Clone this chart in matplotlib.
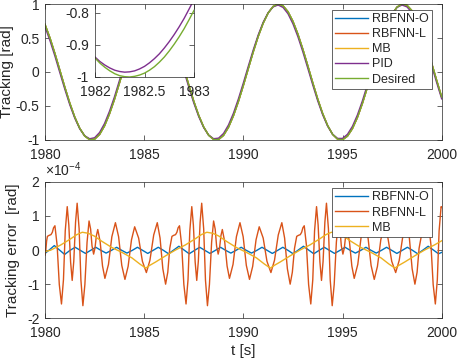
#!/usr/bin/env python3
"""Tracking and tracking error of the RBFNN / MB / PID controllers, t = 1980..2000 s."""
import numpy as np
import matplotlib
matplotlib.use("Agg")
import matplotlib.pyplot as plt
from matplotlib.ticker import FormatStrFormatter

plt.rcParams["font.family"] = ["Liberation Sans", "DejaVu Sans"]
plt.rcParams["axes.unicode_minus"] = False
plt.rcParams["mathtext.default"] = "regular"

# MATLAB default colour order
C_O, C_L, C_MB, C_PID, C_DES = "#0072BD", "#D95319", "#EDB120", "#7E2F8E", "#77AC30"
INK = "#262626"

# --- top panel: tracking [rad], read every 0.25 s ---
t_track = np.arange(1980, 2000.001, 0.25)
desired = [
    0.699, 0.500, 0.271, 0.024, -0.224, -0.458, -0.663, -0.828, -0.941, -0.995,
    -0.988, -0.919, -0.793, -0.616, -0.404, -0.165, 0.084, 0.328, 0.552, 0.741,
    0.884, 0.972, 1.000, 0.966, 0.871, 0.723, 0.528, 0.303, 0.057, -0.192,
    -0.430, -0.639, -0.809, -0.930, -0.992, -0.993, -0.932, -0.813, -0.643, -0.434,
    -0.198, 0.051, 0.297, 0.524, 0.718, 0.868, 0.964, 1.000, 0.974, 0.887,
    0.745, 0.557, 0.334, 0.091, -0.159, -0.398, -0.612, -0.788, -0.917, -0.987,
    -0.996, -0.943, -0.832, -0.669, -0.464, -0.230, 0.018, 0.265, 0.495, 0.695,
    0.851, 0.955, 0.999, 0.981, 0.902, 0.767, 0.584, 0.365, 0.123, -0.126,
    -0.368,
]
pid = [
    0.663, 0.461, 0.233, -0.012, -0.255, -0.483, -0.679, -0.835, -0.938, -0.982,
    -0.967, -0.890, -0.758, -0.578, -0.366, -0.127, 0.118, 0.357, 0.573, 0.753,
    0.887, 0.964, 0.984, 0.942, 0.840, 0.686, 0.490, 0.264, 0.021, -0.224,
    -0.455, -0.656, -0.817, -0.928, -0.981, -0.973, -0.904, -0.779, -0.606, -0.395,
    -0.160, 0.086, 0.326, 0.546, 0.732, 0.872, 0.958, 0.985, 0.950, 0.857,
    0.709, 0.519, 0.296, 0.054, -0.191, -0.425, -0.630, -0.797, -0.916, -0.977,
    -0.977, -0.916, -0.799, -0.632, -0.426, -0.191, 0.053, 0.295, 0.518, 0.710,
    0.856, 0.951, 0.985, 0.958, 0.873, 0.732, 0.546, 0.326, 0.086, -0.159,
    -0.395,
]

# inset: 1982..1983 s, read every 0.05 s
t_zoom = np.arange(1982, 1983.001, 0.05)
zoom_desired = [-0.941, -0.957, -0.970, -0.981, -0.990, -0.996, -0.999, -1.000, -0.998, -0.994,
                -0.988, -0.979, -0.968, -0.954, -0.938, -0.919, -0.898, -0.875, -0.850, -0.822,
                -0.793]
zoom_pid = [-0.938, -0.952, -0.963, -0.972, -0.979, -0.983, -0.985, -0.984, -0.981, -0.975,
            -0.967, -0.956, -0.943, -0.928, -0.910, -0.890, -0.868, -0.844, -0.818, -0.789,
            -0.759]

# --- bottom panel: tracking error, in units of 1e-4 rad ---
t_err_o = [
    1980.00, 1980.21, 1980.47, 1980.73, 1980.99, 1981.26, 1981.52, 1981.78, 1982.04, 1982.30,
    1982.56, 1982.82, 1983.08, 1983.35, 1983.61, 1983.87, 1984.13, 1984.40, 1984.66, 1984.92,
    1985.18, 1985.45, 1985.71, 1985.97, 1986.23, 1986.49, 1986.75, 1987.01, 1987.27, 1987.54,
    1987.80, 1988.06, 1988.32, 1988.59, 1988.85, 1989.11, 1989.37, 1989.63, 1989.89, 1990.15,
    1990.41, 1990.68, 1990.94, 1991.20, 1991.46, 1991.73, 1991.99, 1992.25, 1992.51, 1992.77,
    1993.03, 1993.29, 1993.55, 1993.82, 1994.08, 1994.34, 1994.60, 1994.87, 1995.13, 1995.39,
    1995.65, 1995.92, 1996.18, 1996.44, 1996.70, 1996.96, 1997.22, 1997.48, 1997.74, 1998.01,
    1998.27, 1998.53, 1998.79, 1999.06, 1999.32, 1999.58, 1999.84, 2000.00,
]
err_o = [
    -0.10, 0.00, 0.13, 0.00, -0.13, -0.01, 0.08, -0.01, -0.10, -0.01,
    0.08, -0.01, -0.09, -0.01, 0.08, -0.01, -0.09, -0.01, 0.08, -0.01,
    -0.10, -0.01, 0.08, -0.01, -0.11, 0.00, 0.11, 0.00, -0.11, -0.01,
    0.08, -0.01, -0.10, -0.01, 0.08, -0.01, -0.09, -0.01, 0.08, -0.01,
    -0.09, -0.01, 0.08, -0.01, -0.10, -0.01, 0.08, -0.01, -0.11, 0.00,
    0.11, 0.00, -0.11, -0.01, 0.08, -0.01, -0.10, -0.01, 0.08, -0.01,
    -0.09, -0.01, 0.08, -0.01, -0.09, -0.01, 0.08, -0.01, -0.10, -0.01,
    0.08, -0.01, -0.11, 0.00, 0.11, 0.00, -0.11, -0.07,
]

t_err_l = [
    1980.00, 1980.04, 1980.08, 1980.12, 1980.21, 1980.30, 1980.37, 1980.43, 1980.50, 1980.61,
    1980.72, 1980.83, 1980.93, 1981.02, 1981.12, 1981.20, 1981.29, 1981.37, 1981.45, 1981.54,
    1981.62, 1981.72, 1981.81, 1981.91, 1982.01, 1982.12, 1982.22, 1982.30, 1982.37, 1982.45,
    1982.52, 1982.59, 1982.66, 1982.78, 1982.90, 1983.02, 1983.20, 1983.37, 1983.55, 1983.71,
    1983.87, 1984.03, 1984.19, 1984.36, 1984.52, 1984.72, 1984.91, 1985.11, 1985.29, 1985.48,
    1985.66, 1985.80, 1985.94, 1986.08, 1986.19, 1986.29,
    1986.40, 1986.49, 1986.58, 1986.65, 1986.71, 1986.78, 1986.89, 1987.00, 1987.11, 1987.21,
    1987.30, 1987.40, 1987.48, 1987.57, 1987.65, 1987.73, 1987.82, 1987.90, 1988.00, 1988.09,
    1988.19, 1988.29, 1988.40, 1988.50, 1988.58, 1988.65, 1988.73, 1988.80, 1988.87, 1988.94,
    1989.06, 1989.18, 1989.30, 1989.48, 1989.65, 1989.83, 1989.99, 1990.15, 1990.31, 1990.47,
    1990.64, 1990.80, 1991.00, 1991.19, 1991.39, 1991.57, 1991.76, 1991.94, 1992.08, 1992.22,
    1992.36, 1992.47, 1992.58,
    1992.69, 1992.78, 1992.87, 1992.94, 1993.00, 1993.07, 1993.18, 1993.29, 1993.40, 1993.50,
    1993.59, 1993.69, 1993.77, 1993.86, 1993.94, 1994.02, 1994.11, 1994.19, 1994.29, 1994.38,
    1994.48, 1994.58, 1994.69, 1994.79, 1994.87, 1994.94, 1995.02, 1995.09, 1995.16, 1995.23,
    1995.35, 1995.47, 1995.59, 1995.77, 1995.94, 1996.12, 1996.28, 1996.44, 1996.60, 1996.76,
    1996.93, 1997.09, 1997.29, 1997.48, 1997.68, 1997.86, 1998.05, 1998.23, 1998.37, 1998.51,
    1998.65, 1998.76, 1998.86,
    1998.97, 1999.06, 1999.15, 1999.22, 1999.28, 1999.35, 1999.46, 1999.57, 1999.68, 1999.78,
    1999.87, 1999.97, 2000.00,
]
err_l = [
    -0.15, -0.01, 0.26, 0.40, 0.43, 0.45, 0.52, 0.65, 0.71, 0.14,
    -1.01, -1.58, -0.87, 0.56, 1.27, 0.73, -0.35, -0.89, -0.33, 0.81,
    1.37, 0.62, -0.88, -1.63, -1.01, 0.23, 0.85, 0.61, 0.12, -0.12,
    0.06, 0.42, 0.60, 0.24, -0.47, -0.83, -0.42, 0.39, 0.80, 0.39,
    -0.45, -0.86, -0.48, 0.30, 0.68, 0.35, -0.33, -0.66, -0.30, 0.44,
    0.80, 0.35, -0.55, -1.00, -0.65, 0.05,
    0.40, 0.43, 0.45, 0.52, 0.65, 0.71, 0.14, -1.01, -1.58, -0.87,
    0.56, 1.27, 0.73, -0.35, -0.89, -0.33, 0.81, 1.37, 0.62, -0.88,
    -1.63, -1.01, 0.23, 0.85, 0.61, 0.12, -0.12, 0.06, 0.42, 0.60,
    0.24, -0.47, -0.83, -0.42, 0.39, 0.80, 0.39, -0.45, -0.86, -0.48,
    0.30, 0.68, 0.35, -0.33, -0.66, -0.30, 0.44, 0.80, 0.35, -0.55,
    -1.00, -0.65, 0.05,
    0.40, 0.43, 0.45, 0.52, 0.65, 0.71, 0.14, -1.01, -1.58, -0.87,
    0.56, 1.27, 0.73, -0.35, -0.89, -0.33, 0.81, 1.37, 0.62, -0.88,
    -1.63, -1.01, 0.23, 0.85, 0.61, 0.12, -0.12, 0.06, 0.42, 0.60,
    0.24, -0.47, -0.83, -0.42, 0.39, 0.80, 0.39, -0.45, -0.86, -0.48,
    0.30, 0.68, 0.35, -0.33, -0.66, -0.30, 0.44, 0.80, 0.35, -0.55,
    -1.00, -0.65, 0.05,
    0.40, 0.43, 0.45, 0.52, 0.65, 0.71, 0.14, -1.01, -1.58, -0.87,
    0.56, 1.27, 1.25,
]

t_err_mb = [
    1980.00, 1980.30, 1980.80, 1981.30, 1981.60, 1981.88, 1982.18, 1982.48, 1982.88, 1983.38,
    1983.88, 1984.38, 1984.78, 1985.08, 1985.28, 1985.58, 1986.08, 1986.58, 1987.08, 1987.58,
    1987.88, 1988.16, 1988.46, 1988.76, 1989.16, 1989.66, 1990.16, 1990.66, 1991.06, 1991.36,
    1991.56, 1991.86, 1992.36, 1992.86, 1993.36, 1993.86, 1994.16, 1994.44, 1994.74, 1995.04,
    1995.44, 1995.94, 1996.44, 1996.94, 1997.34, 1997.64, 1997.84, 1998.14, 1998.64, 1999.14,
    1999.64, 2000.00,
]
err_mb = [
    -0.05, 0.00, 0.15, 0.33, 0.45, 0.52, 0.49, 0.41, 0.25, 0.07,
    -0.07, -0.23, -0.41, -0.53, -0.45, -0.35, -0.17, 0.00, 0.15, 0.33,
    0.45, 0.52, 0.49, 0.41, 0.25, 0.07, -0.07, -0.23, -0.41, -0.53,
    -0.45, -0.35, -0.17, 0.00, 0.15, 0.33, 0.45, 0.52, 0.49, 0.41,
    0.25, 0.07, -0.07, -0.23, -0.41, -0.53, -0.45, -0.35, -0.17, 0.00,
    0.15, 0.27,
]

labels = ["RBFNN-O", "RBFNN-L", "MB", "PID", "Desired"]
LW = 1.0


def style(ax, xpad=5.5, ypad=4):
    ax.tick_params(direction="in", top=True, right=True, length=3.5, width=0.5,
                   color=INK, labelcolor=INK, labelsize=10)
    ax.tick_params(axis="x", pad=xpad)
    ax.tick_params(axis="y", pad=ypad)
    for s in ax.spines.values():
        s.set_linewidth(0.5)
        s.set_color(INK)
    ax.xaxis.set_major_formatter(FormatStrFormatter("%g"))
    ax.yaxis.set_major_formatter(FormatStrFormatter("%g"))


def legend(ax, handles, names, anchor):
    leg = ax.legend(handles, names, loc="upper right", bbox_to_anchor=anchor,
                    borderaxespad=0, fontsize=9, handlelength=2.6, handletextpad=0.35,
                    labelspacing=0.25, borderpad=0.25, fancybox=False, framealpha=1,
                    edgecolor=INK)
    leg.get_frame().set_linewidth(0.5)
    for txt in leg.get_texts():
        txt.set_color(INK)


fig = plt.figure(figsize=(4.57, 3.64), dpi=100)

# --- top: tracking (the three RBFNN/MB curves sit within 1e-4 rad of the reference) ---
ax1 = fig.add_axes([0.0985, 0.6154, 0.868, 0.3736])
h = []
h += ax1.plot(t_track, desired, color=C_O, lw=LW)
h += ax1.plot(t_track, desired, color=C_L, lw=LW)
h += ax1.plot(t_track, desired, color=C_MB, lw=LW)
h += ax1.plot(t_track, pid, color=C_PID, lw=LW)
h += ax1.plot(t_track, desired, color=C_DES, lw=LW)
ax1.set_xlim(1980, 2000)
ax1.set_ylim(-1, 1)
ax1.set_xticks([1980, 1985, 1990, 1995, 2000])
ax1.set_yticks([-1, -0.5, 0, 0.5, 1])
ax1.set_ylabel("Tracking [rad]", fontsize=11, color=INK, labelpad=1)
style(ax1)
legend(ax1, h, labels, (0.9756, 0.956))

# inset zoom around the first minimum
axin = fig.add_axes([0.2079, 0.7885, 0.2166, 0.2005])
axin.plot(t_zoom, zoom_pid, color=C_PID, lw=LW)
axin.plot(t_zoom, zoom_desired, color=C_DES, lw=LW)
axin.set_xlim(1982, 1983)
axin.set_ylim(-1, -0.773)
axin.set_xticks([1982, 1982.5, 1983])
axin.set_yticks([-1, -0.9, -0.8])
style(axin, xpad=6, ypad=4.5)

# --- bottom: tracking error ---
ax2 = fig.add_axes([0.0985, 0.1255, 0.868, 0.3753])
g = []
g += ax2.plot(t_err_o, err_o, color=C_O, lw=LW)
g += ax2.plot(t_err_l, err_l, color=C_L, lw=LW)
g += ax2.plot(t_err_mb, err_mb, color=C_MB, lw=LW)
ax2.set_xlim(1980, 2000)
ax2.set_ylim(-2, 2)
ax2.set_xticks([1980, 1985, 1990, 1995, 2000])
ax2.set_yticks([-2, -1, 0, 1, 2])
ax2.set_xlabel("t [s]", fontsize=11, color=INK, labelpad=3)
ax2.set_ylabel("Tracking error  [rad]", fontsize=11, color=INK, labelpad=5)
style(ax2)
ax2.text(0.0, 1.02, "×10$^{-4}$", transform=ax2.transAxes, ha="left", va="bottom",
         fontsize=10, color=INK)
legend(ax2, g, labels[:3], (0.9756, 0.952))

fig.savefig("out.png", dpi=100)
print("Saved: out.png")
